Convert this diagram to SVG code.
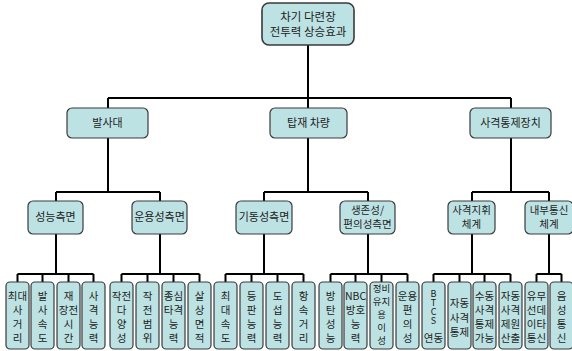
<svg xmlns="http://www.w3.org/2000/svg" width="572" height="351" viewBox="0 0 572 351">
<style>
.box{fill:#bde2e4;stroke:#3a3a3a;stroke-width:1.2}
.t{font-family:"Noto Sans CJK KR","Noto Sans",sans-serif;font-size:11px;fill:#222;text-anchor:middle}
.t2{font-size:10.5px}
.lf{font-family:"Noto Sans CJK KR","Noto Sans",sans-serif;font-size:10.5px;fill:#222;text-anchor:middle}
.vt{writing-mode:vertical-rl;text-orientation:upright}
.ln{fill:none;stroke:#000;stroke-width:2}
</style>
<rect width="572" height="351" fill="#fff"/>
<g id="connectors">
<path class="ln" d="M308 45V98M108 98H511M108 98V108M308 98V108M511 98V108"/>
<path class="ln" d="M108 138V192M56 192H160M56 192V201M160 192V201"/>
<path class="ln" d="M308 138V192M264 192H368M264 192V201M368 192V201"/>
<path class="ln" d="M511 138V192M472 192H549M472 192V201M549 192V201"/>
<path class="ln" d="M56 234V274M17.5 274H93.5M17.5 274V282M42.5 274V282M68.5 274V282M93.5 274V282"/>
<path class="ln" d="M160 234V274M121.5 274H199.5M121.5 274V282M147.5 274V282M173.5 274V282M199.5 274V282"/>
<path class="ln" d="M264 234V274M225.5 274H303.5M225.5 274V282M251.5 274V282M277.5 274V282M303.5 274V282"/>
<path class="ln" d="M368 234V274M330.5 274H407.5M330.5 274V282M355.5 274V282M381.5 274V282M407.5 274V282"/>
<path class="ln" d="M472 234V274M433.5 274H510.5M433.5 274V282M459.5 274V282M484.5 274V282M510.5 274V282"/>
<path class="ln" d="M549 234V274M536.5 274H561.5M536.5 274V282M561.5 274V282"/>
</g>
<g id="root"><rect class="box" x="262" y="3" width="92" height="42" rx="7" style="stroke-width:1.6"/><text class="t" x="308" y="20.5" style="font-size:11.5px">차기 다련장</text><text class="t" x="308" y="36" style="font-size:11.5px">전투력 상승효과</text></g>
<g id="n-launcher"><rect class="box" x="67" y="108" width="81" height="30" rx="5"/><text class="t" x="107.5" y="127">발사대</text></g>
<g id="n-vehicle"><rect class="box" x="270" y="108" width="77" height="30" rx="5"/><text class="t" x="308.5" y="127">탑재 차량</text></g>
<g id="n-fcs"><rect class="box" x="470" y="108" width="81" height="30" rx="5"/><text class="t" x="510.5" y="127">사격통제장치</text></g>
<g id="n-perf"><rect class="box" x="28" y="201" width="55" height="33" rx="5"/><text class="t" x="55.5" y="221">성능측면</text></g>
<g id="n-oper"><rect class="box" x="132" y="201" width="55" height="33" rx="5"/><text class="t" x="159.5" y="221">운용성측면</text></g>
<g id="n-mob"><rect class="box" x="236" y="201" width="56" height="33" rx="5"/><text class="t" x="264" y="221">기동성측면</text></g>
<g id="n-surv"><rect class="box" x="340" y="201" width="55" height="33" rx="5"/><text class="t t2" x="367.5" y="214">생존성/</text><text class="t t2" x="367.5" y="228">편의성측면</text></g>
<g id="n-cmd"><rect class="box" x="448" y="201" width="47" height="33" rx="5"/><text class="t t2" x="471.5" y="214">사격지휘</text><text class="t t2" x="471.5" y="228">체계</text></g>
<g id="n-comm"><rect class="box" x="525" y="201" width="48" height="33" rx="5"/><text class="t t2" x="549" y="214">내부통신</text><text class="t t2" x="549" y="228">체계</text></g>
<g id="leaf1"><rect class="box" x="6" y="282" width="23" height="67" rx="4"/><text class="lf"><tspan x="17.5" y="300">최대</tspan><tspan x="17.5" y="314">사</tspan><tspan x="17.5" y="328">거</tspan><tspan x="17.5" y="342">리</tspan></text></g>
<g id="leaf2"><rect class="box" x="31" y="282" width="23" height="67" rx="4"/><text class="lf"><tspan x="42.5" y="300">발</tspan><tspan x="42.5" y="314">사</tspan><tspan x="42.5" y="328">속</tspan><tspan x="42.5" y="342">도</tspan></text></g>
<g id="leaf3"><rect class="box" x="57" y="282" width="23" height="67" rx="4"/><text class="lf"><tspan x="68.5" y="300">재</tspan><tspan x="68.5" y="314">장전</tspan><tspan x="68.5" y="328">시</tspan><tspan x="68.5" y="342">간</tspan></text></g>
<g id="leaf4"><rect class="box" x="82" y="282" width="23" height="67" rx="4"/><text class="lf"><tspan x="93.5" y="300">사</tspan><tspan x="93.5" y="314">격</tspan><tspan x="93.5" y="328">능</tspan><tspan x="93.5" y="342">력</tspan></text></g>
<g id="leaf5"><rect class="box" x="110" y="282" width="23" height="67" rx="4"/><text class="lf"><tspan x="121.5" y="300">작전</tspan><tspan x="121.5" y="314">다</tspan><tspan x="121.5" y="328">양</tspan><tspan x="121.5" y="342">성</tspan></text></g>
<g id="leaf6"><rect class="box" x="136" y="282" width="23" height="67" rx="4"/><text class="lf"><tspan x="147.5" y="300">작</tspan><tspan x="147.5" y="314">전</tspan><tspan x="147.5" y="328">범</tspan><tspan x="147.5" y="342">위</tspan></text></g>
<g id="leaf7"><rect class="box" x="162" y="282" width="23" height="67" rx="4"/><text class="lf"><tspan x="173.5" y="300">종심</tspan><tspan x="173.5" y="314">타격</tspan><tspan x="173.5" y="328">능</tspan><tspan x="173.5" y="342">력</tspan></text></g>
<g id="leaf8"><rect class="box" x="188" y="282" width="23" height="67" rx="4"/><text class="lf"><tspan x="199.5" y="300">살</tspan><tspan x="199.5" y="314">상</tspan><tspan x="199.5" y="328">면</tspan><tspan x="199.5" y="342">적</tspan></text></g>
<g id="leaf9"><rect class="box" x="214" y="282" width="23" height="67" rx="4"/><text class="lf"><tspan x="225.5" y="300">최</tspan><tspan x="225.5" y="314">대</tspan><tspan x="225.5" y="328">속</tspan><tspan x="225.5" y="342">도</tspan></text></g>
<g id="leaf10"><rect class="box" x="240" y="282" width="23" height="67" rx="4"/><text class="lf"><tspan x="251.5" y="300">등</tspan><tspan x="251.5" y="314">판</tspan><tspan x="251.5" y="328">능</tspan><tspan x="251.5" y="342">력</tspan></text></g>
<g id="leaf11"><rect class="box" x="266" y="282" width="23" height="67" rx="4"/><text class="lf"><tspan x="277.5" y="300">도</tspan><tspan x="277.5" y="314">섭</tspan><tspan x="277.5" y="328">능</tspan><tspan x="277.5" y="342">력</tspan></text></g>
<g id="leaf12"><rect class="box" x="292" y="282" width="23" height="67" rx="4"/><text class="lf"><tspan x="303.5" y="300">항</tspan><tspan x="303.5" y="314">속</tspan><tspan x="303.5" y="328">거</tspan><tspan x="303.5" y="342">리</tspan></text></g>
<g id="leaf13"><rect class="box" x="319" y="282" width="23" height="67" rx="4"/><text class="lf"><tspan x="330.5" y="300">방</tspan><tspan x="330.5" y="314">탄</tspan><tspan x="330.5" y="328">성</tspan><tspan x="330.5" y="342">능</tspan></text></g>
<g id="leaf14"><rect class="box" x="344" y="282" width="23" height="67" rx="4"/><text class="lf"><tspan x="355.5" y="300">NBC</tspan><tspan x="355.5" y="314">방호</tspan><tspan x="355.5" y="328">능</tspan><tspan x="355.5" y="342">력</tspan></text></g>
<g id="leaf15"><rect class="box" x="370" y="282" width="23" height="67" rx="4"/><text class="lf" style="font-size:9.5px"><tspan x="381.5" y="292">정비</tspan><tspan x="381.5" y="305">유지</tspan><tspan x="381.5" y="318">용</tspan><tspan x="381.5" y="331">이</tspan><tspan x="381.5" y="344">성</tspan></text></g>
<g id="leaf16"><rect class="box" x="396" y="282" width="23" height="67" rx="4"/><text class="lf"><tspan x="407.5" y="300">운용</tspan><tspan x="407.5" y="314">편</tspan><tspan x="407.5" y="328">의</tspan><tspan x="407.5" y="342">성</tspan></text></g>
<g id="leaf17"><rect class="box" x="422" y="282" width="23" height="67" rx="4"/><text class="lf vt" x="433.5" y="307" style="font-size:9px">BTCS</text><text class="lf" x="433.5" y="342">연동</text></g>
<g id="leaf18"><rect class="box" x="448" y="282" width="23" height="67" rx="4"/><text class="lf"><tspan x="459.5" y="307">자동</tspan><tspan x="459.5" y="322">사격</tspan><tspan x="459.5" y="336">통제</tspan></text></g>
<g id="leaf19"><rect class="box" x="473" y="282" width="23" height="67" rx="4"/><text class="lf"><tspan x="484.5" y="300">수동</tspan><tspan x="484.5" y="314">사격</tspan><tspan x="484.5" y="328">통제</tspan><tspan x="484.5" y="342">가능</tspan></text></g>
<g id="leaf20"><rect class="box" x="499" y="282" width="23" height="67" rx="4"/><text class="lf"><tspan x="510.5" y="300">자동</tspan><tspan x="510.5" y="314">사격</tspan><tspan x="510.5" y="328">제원</tspan><tspan x="510.5" y="342">산출</tspan></text></g>
<g id="leaf21"><rect class="box" x="525" y="282" width="23" height="67" rx="4"/><text class="lf"><tspan x="536.5" y="300">유무</tspan><tspan x="536.5" y="314">선데</tspan><tspan x="536.5" y="328">이타</tspan><tspan x="536.5" y="342">통신</tspan></text></g>
<g id="leaf22"><rect class="box" x="550" y="282" width="23" height="67" rx="4"/><text class="lf"><tspan x="561.5" y="300">음</tspan><tspan x="561.5" y="314">성</tspan><tspan x="561.5" y="328">통</tspan><tspan x="561.5" y="342">신</tspan></text></g>
</svg>
